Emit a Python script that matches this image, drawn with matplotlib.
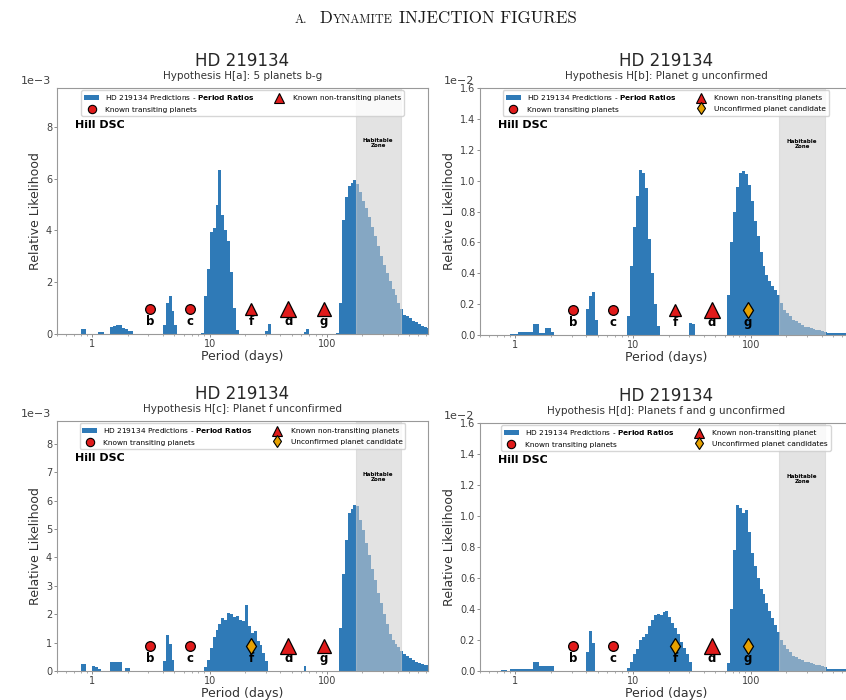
import numpy as np
import matplotlib.pyplot as plt
from matplotlib import ticker
from matplotlib.lines import Line2D
from matplotlib.patches import Patch

# period bins: 40 per decade, 0.5 d .. ~800 d
BIN_EDGES = np.logspace(-0.3, 2.9, 129)

# predicted relative likelihood per bin (H[a], H[c] in 1e-3; H[b], H[d] in 1e-2)
HIST_A = [
    0, 0, 0, 0, 0, 0, 0, 0,
    0.19, 0.19, 0, 0, 0, 0, 0.08, 0.08,
    0, 0, 0.28, 0.30, 0.36, 0.36, 0.23, 0.20,
    0.10, 0.10, 0, 0, 0, 0, 0, 0,
    0, 0, 0, 0, 0.35, 1.20, 1.45, 0.90,
    0.35, 0, 0, 0, 0, 0, 0, 0,
    0, 0.05, 1.45, 2.50, 3.95, 4.10, 5.00, 6.35,
    4.60, 4.00, 3.60, 2.40, 1.00, 0.15, 0, 0,
    0, 0, 0, 0, 0, 0, 0, 0.10,
    0.40, 0, 0, 0, 0, 0, 0, 0,
    0, 0, 0, 0, 0.08, 0.18, 0, 0,
    0, 0, 0, 0, 0, 0, 0, 0.05,
    1.20, 4.40, 5.30, 5.70, 5.85, 5.95, 5.80, 5.50,
    5.15, 4.85, 4.50, 4.15, 3.80, 3.40, 3.00, 2.65,
    2.35, 2.05, 1.75, 1.50, 1.20, 0.95, 0.75, 0.68,
    0.60, 0.52, 0.45, 0.38, 0.32, 0.27, 0.23, 0.20,
]
HIST_B = [
    0, 0, 0, 0, 0, 0, 0, 0,
    0, 0, 0.005, 0.005, 0.005, 0.022, 0.022, 0.022,
    0.022, 0.022, 0.07, 0.07, 0.013, 0.013, 0.045, 0.045,
    0.02, 0, 0, 0, 0, 0, 0, 0,
    0, 0, 0, 0, 0.17, 0.25, 0.28, 0.10,
    0, 0, 0, 0, 0, 0, 0, 0,
    0, 0, 0.12, 0.45, 0.70, 0.90, 1.07, 1.05,
    0.95, 0.62, 0.40, 0.20, 0.06, 0, 0, 0,
    0, 0, 0, 0, 0, 0, 0, 0.075,
    0.07, 0, 0, 0, 0, 0, 0, 0,
    0, 0, 0, 0, 0.26, 0.60, 0.80, 0.96,
    1.05, 1.06, 1.04, 0.97, 0.87, 0.74, 0.64, 0.54,
    0.45, 0.39, 0.35, 0.32, 0.29, 0.26, 0.21, 0.16,
    0.14, 0.12, 0.10, 0.09, 0.075, 0.065, 0.055, 0.05,
    0.045, 0.04, 0.035, 0.03, 0.026, 0.02, 0.013, 0.013,
    0.013, 0.013, 0.013, 0.013, 0.013, 0.013, 0.013, 0.013,
]
HIST_C = [
    0, 0, 0, 0, 0, 0, 0, 0,
    0.24, 0.24, 0, 0, 0.18, 0.15, 0.08, 0,
    0, 0, 0.30, 0.30, 0.30, 0.30, 0, 0.10,
    0.10, 0, 0, 0, 0, 0, 0, 0,
    0, 0, 0, 0, 0.35, 1.25, 0.95, 0.40,
    0, 0, 0, 0, 0, 0, 0, 0,
    0, 0, 0.14, 0.40, 0.80, 1.20, 1.45, 1.65,
    1.85, 1.80, 2.05, 2.00, 1.90, 1.95, 1.80, 1.75,
    2.32, 1.60, 1.35, 1.40, 1.05, 0.90, 0.65, 0.35,
    0, 0, 0, 0, 0, 0, 0, 0,
    0, 0, 0, 0, 0.16, 0, 0, 0,
    0, 0, 0, 0, 0, 0, 0, 0,
    1.50, 3.40, 4.60, 5.55, 5.70, 5.85, 5.80, 5.30,
    4.95, 4.50, 4.10, 3.60, 3.20, 2.75, 2.40, 2.00,
    1.65, 1.30, 1.10, 0.95, 0.85, 0.70, 0.60, 0.52,
    0.45, 0.38, 0.33, 0.28, 0.25, 0.22, 0.20, 0.18,
]
HIST_D = [
    0, 0, 0, 0, 0, 0, 0, 0.008,
    0.008, 0, 0.01, 0.01, 0.01, 0.01, 0.01, 0.01,
    0.01, 0.01, 0.06, 0.06, 0.035, 0.035, 0.035, 0.035,
    0.03, 0, 0, 0, 0, 0, 0, 0,
    0, 0, 0, 0, 0.12, 0.26, 0.18, 0,
    0, 0, 0, 0, 0, 0, 0, 0,
    0, 0, 0.02, 0.06, 0.11, 0.14, 0.20, 0.22,
    0.24, 0.29, 0.33, 0.36, 0.37, 0.36, 0.38, 0.39,
    0.35, 0.31, 0.28, 0.24, 0.19, 0.15, 0.11, 0.06,
    0, 0, 0, 0, 0, 0, 0, 0,
    0, 0, 0, 0, 0.05, 0.40, 0.78, 1.07,
    1.05, 1.02, 1.04, 0.90, 0.76, 0.68, 0.60, 0.53,
    0.50, 0.44, 0.39, 0.34, 0.30, 0.25, 0.20, 0.17,
    0.14, 0.12, 0.10, 0.09, 0.08, 0.07, 0.06, 0.055,
    0.05, 0.045, 0.04, 0.036, 0.032, 0.026, 0.013, 0.013,
    0.013, 0.013, 0.013, 0.013, 0.013, 0.013, 0.013, 0.013,
]

PLANETS = ["b", "c", "f", "d", "g"]
PERIODS = [3.09, 6.76, 22.7, 46.9, 94.2]
TRANSITING = ["b", "c"]
HZ_RANGE = (175, 425)

SUBTITLES = [
    "Hypothesis H[a]: 5 planets b-g",
    "Hypothesis H[b]: Planet g unconfirmed",
    "Hypothesis H[c]: Planet f unconfirmed",
    "Hypothesis H[d]: Planets f and g unconfirmed",
]
UNCONFIRMED = [[], ["g"], ["f"], ["f", "g"]]
HISTS = [HIST_A, HIST_B, HIST_C, HIST_D]
SCALES = [1e-3, 1e-2, 1e-3, 1e-2]
YTICKS = [[0, 2, 4, 6, 8], [0, 0.2, 0.4, 0.6, 0.8, 1.0, 1.2, 1.4, 1.6],
          [0, 1, 2, 3, 4, 5, 6, 7, 8], [0, 0.2, 0.4, 0.6, 0.8, 1.0, 1.2, 1.4, 1.6]]
YTOPS = [9.5, 1.6, 8.8, 1.6]
NONTRANS_LABELS = ["Known non-transiting planets"] * 3 + ["Known non-transiting planet"]
CAND_LABELS = [None, "Unconfirmed planet candidate", "Unconfirmed planet candidate",
               "Unconfirmed planet candidates"]

BLUE = "#2f7ab7"
RED = "#e01b1b"
GOLD = "#e6a100"
TRI_SIZE = {"f": 8, "d": 11.5, "g": 10.5}

W, H = 846, 700
# axes boxes in pixels: left, top, right, bottom
BOXES = [(57, 88, 428, 334), (480, 88, 852, 335),
         (57, 421, 428, 671), (480, 423, 852, 671)]

fig = plt.figure(figsize=(W / 100, H / 100), dpi=100)

for i in range(4):
    l, t, r, b = BOXES[i]
    ax = fig.add_axes([l / W, 1 - b / H, (r - l) / W, (b - t) / H])
    scale = SCALES[i]
    heights = np.array(HISTS[i]) * scale

    ax.stairs(heights, BIN_EDGES, fill=True, color=BLUE, lw=0, zorder=1)
    ax.axvspan(*HZ_RANGE, facecolor="#cdcdcd", edgecolor="#cdcdcd", lw=0.8,
               alpha=0.55, zorder=2)
    ax.text(np.sqrt(HZ_RANGE[0] * HZ_RANGE[1]), 0.775, "Habitable\nZone",
            transform=ax.get_xaxis_transform(), ha="center", va="center",
            fontsize=4, fontweight="bold", linespacing=1.0, zorder=5)

    tr = ax.get_xaxis_transform()
    for name, per in zip(PLANETS, PERIODS):
        if name in UNCONFIRMED[i]:
            ax.plot(per, 0.1, marker="d", ms=8.5, mfc=GOLD, mec="k", mew=0.9,
                    transform=tr, zorder=4, clip_on=False)
        elif name in TRANSITING:
            ax.plot(per, 0.1, marker="o", ms=7, mfc=RED, mec="k", mew=0.9,
                    transform=tr, zorder=4)
        else:
            ax.plot(per, 0.1, marker="^", ms=TRI_SIZE[name], mfc=RED, mec="k",
                    mew=0.9, transform=tr, zorder=4)
        ax.text(per, 0.05, name, transform=tr, ha="center", va="center",
                fontsize=8.5, fontweight="bold", zorder=3)

    ax.text(0.048, 0.85, "Hill DSC", transform=ax.transAxes, fontsize=8,
            fontweight="bold", va="center", ha="left")

    handles = [
        Patch(facecolor=BLUE, label=r"HD 219134 Predictions - $\bf{Period\ Ratios}$"),
        Line2D([], [], ls="none", marker="o", ms=6, mfc=RED, mec="k", mew=0.8,
               label="Known transiting planets"),
        Line2D([], [], ls="none", marker="^", ms=6.5, mfc=RED, mec="k", mew=0.8,
               label=NONTRANS_LABELS[i]),
    ]
    if CAND_LABELS[i]:
        handles.append(Line2D([], [], ls="none", marker="d", ms=6.5, mfc=GOLD,
                              mec="k", mew=0.8, label=CAND_LABELS[i]))
    ax.legend(handles=handles, loc="upper center", ncol=2, fontsize=5.3,
              borderaxespad=0.3, columnspacing=2.4, handlelength=2.0,
              labelspacing=0.6)

    ax.set_xscale("log")
    ax.set_xlim(0.5, 725)
    ax.set_ylim(0, YTOPS[i] * scale)
    ax.set_yticks(np.array(YTICKS[i]) * scale)
    ax.ticklabel_format(axis="y", style="sci", scilimits=(0, 0))
    off = ax.yaxis.get_offset_text()
    off.set_fontsize(8)
    off.set_color("0.2")
    off.set_horizontalalignment("right")
    off.set_x(-0.015)

    ax.xaxis.set_major_formatter(ticker.FuncFormatter(lambda v, _: f"{v:g}"))
    ax.xaxis.set_minor_formatter(ticker.NullFormatter())
    ax.tick_params(which="major", labelsize=7, labelcolor="0.25", color="0.55",
                   length=2.5, width=0.7, pad=1)
    ax.tick_params(which="minor", color="0.55", length=1.6, width=0.5)
    for sp in ax.spines.values():
        sp.set_color("0.6")
        sp.set_linewidth(0.8)

    ax.set_xlabel("Period (days)", fontsize=9, color="0.2", labelpad=0.5)
    ax.set_ylabel("Relative Likelihood", fontsize=9, color="0.2", labelpad=3)
    ax.text(0.5, 1.108, "HD 219134", transform=ax.transAxes, ha="center",
            va="center", fontsize=12, color="0.15")
    ax.text(0.5, 1.048, SUBTITLES[i], transform=ax.transAxes, ha="center",
            va="center", fontsize=7.5, color="0.2")

# section heading set in small caps
renderer = fig.canvas.get_renderer()
x = 295
for piece, size, gap in [("A.", 8.8, 12), ("D", 12.2, 0.5), ("YNAMITE", 8.8, 6),
                         ("INJECTION FIGURES", 12.2, 0)]:
    txt = fig.text(x / W, 1 - 23 / H, piece, fontsize=size, family="cmr10",
                   va="baseline", ha="left", color="0.1")
    x = txt.get_window_extent(renderer).x1 + gap

fig.savefig("out.png", dpi=100)
